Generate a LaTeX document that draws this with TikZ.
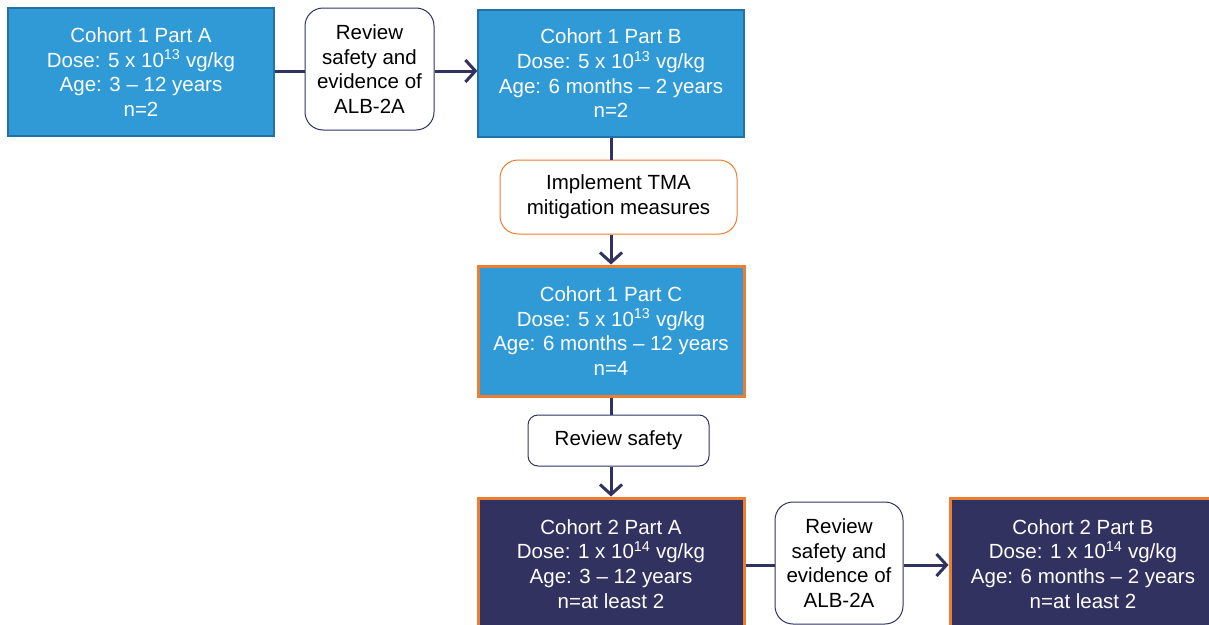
\documentclass[tikz,border=0pt]{standalone}
\usepackage{fontspec}
\setmainfont{Liberation Sans}
\usetikzlibrary{arrows.meta}
\definecolor{cblue}{HTML}{2F9AD5}
\definecolor{cblueline}{HTML}{2372A6}
\definecolor{cnavy}{HTML}{31325F}
\definecolor{corange}{HTML}{ED7D31}
\tikzstyle{cohort}=[shape=rectangle, fill=cblue, draw=cblueline, line width=1.2pt, text=white, align=center, inner sep=0, minimum width=266pt, font=\fontsize{20.5}{24.7}\selectfont]
\tikzstyle{cohortC}=[cohort, draw=corange, line width=3pt]
\tikzstyle{cohorttwo}=[cohortC, fill=cnavy]
\tikzstyle{review}=[shape=rectangle, rounded corners=18pt, fill=white, draw=cnavy, line width=1pt, text=black, align=center, inner sep=0, font=\fontsize{20.5}{24.7}\selectfont]
\tikzstyle{mitig}=[review, draw=corange]
\tikzstyle{flow}=[draw=cnavy, line width=3pt]
\tikzstyle{flowarr}=[flow, -{Straight Barb[length=10pt, width=22pt]}]

\begin{document}
\begin{tikzpicture}[x=1pt, y=-1pt]
\useasboundingbox (0,0) rectangle (1209,624);
\clip (0,0) rectangle (1209,624);
\node at (141,72)[cohort, minimum height=128pt](a1){Cohort 1 Part A\\Dose: 5 x 10\textsuperscript{13} vg/kg\\Age: 3 -- 12 years\\n=2};
\node at (369.5,69)[review, minimum width=129pt, minimum height=122pt](r1){Review\\safety and\\evidence of\\ALB-2A};
\node at (611,73.5)[cohort, minimum height=127pt](b1){Cohort 1 Part B\\Dose: 5 x 10\textsuperscript{13} vg/kg\\Age: 6 months -- 2 years\\n=2};
\node at (618.5,197)[mitig, minimum width=237pt, minimum height=74pt](tma){Implement TMA\\mitigation measures};
\node at (611,331)[cohortC, minimum height=130pt](c1){Cohort 1 Part C\\Dose: 5 x 10\textsuperscript{13} vg/kg\\Age: 6 months -- 12 years\\n=4};
\node at (618.5,440.5)[review, minimum width=181pt, minimum height=51pt, rounded corners=10pt](r2){Review safety};
\node at (611,564)[cohorttwo, minimum height=132pt](c2a){Cohort 2 Part A\\Dose: 1 x 10\textsuperscript{14} vg/kg\\Age: 3 -- 12 years\\n=at least 2};
\node at (839,563)[review, minimum width=128pt, minimum height=122pt](r3){Review\\safety and\\evidence of\\ALB-2A};
\node at (1083,564)[cohorttwo, minimum height=132pt](c2b){Cohort 2 Part B\\Dose: 1 x 10\textsuperscript{14} vg/kg\\Age: 6 months -- 2 years\\n=at least 2};
% connectors
\draw[flow] (a1.east |- 0,71) -- (r1.west |- 0,71);
\draw[flowarr] (r1.east |- 0,71) -- (b1.west |- 0,71);
\draw[flow] (b1.south -| 611,0) -- (tma.north -| 611,0);
\draw[flowarr] (tma.south -| 611,0) -- (c1.north);
\draw[flow] (c1.south) -- (r2.north -| 611,0);
\draw[flowarr] (r2.south -| 611,0) -- (c2a.north);
\draw[flow] (c2a.east |- 0,565) -- (r3.west |- 0,565);
\draw[flowarr] (r3.east |- 0,565) -- (c2b.west |- 0,565);
\end{tikzpicture}
\end{document}
